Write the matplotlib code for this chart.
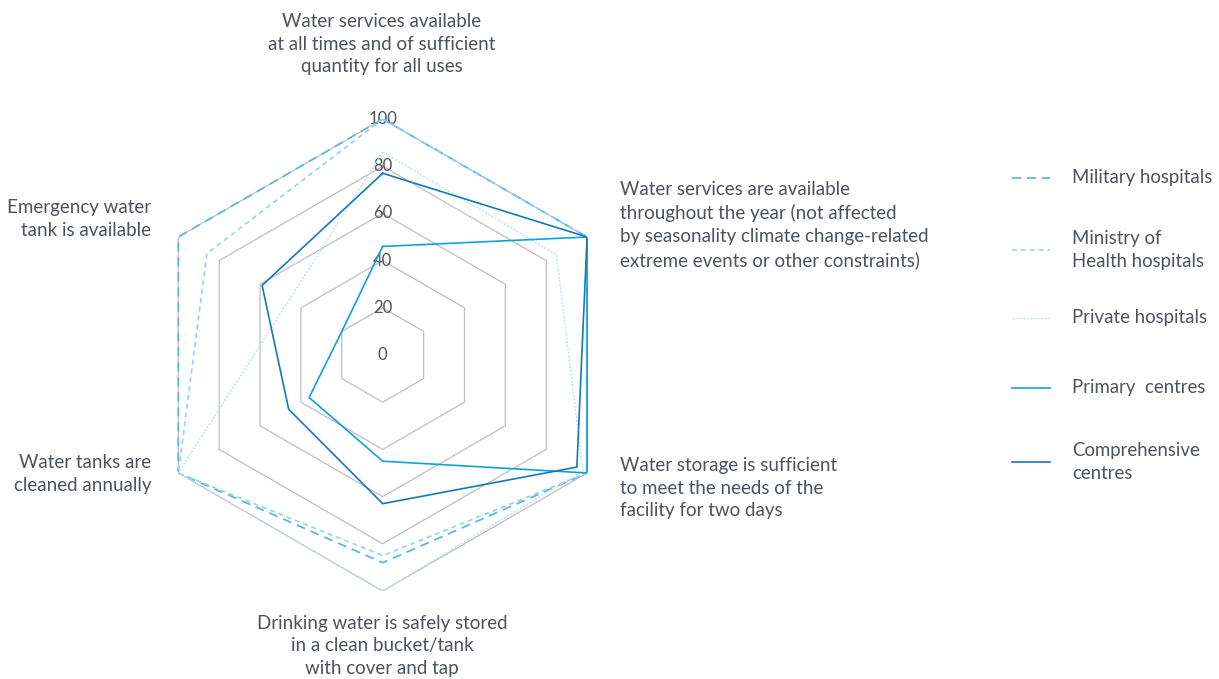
import numpy as np
import matplotlib
matplotlib.use("Agg")
import matplotlib.pyplot as plt
from matplotlib.lines import Line2D

plt.rcParams['font.family'] = ['Lato', 'DejaVu Sans']
plt.rcParams['lines.scale_dashes'] = False

categories = [
    "Water services available\nat all times and of sufficient\nquantity for all uses",
    "Water services are available\nthroughout the year (not affected\nby seasonality climate change-related\nextreme events or other constraints)",
    "Water storage is sufficient\nto meet the needs of the\nfacility for two days",
    "Drinking water is safely stored\nin a clean bucket/tank\nwith cover and tap",
    "Water tanks are\ncleaned annually",
    "Emergency water\ntank is available",
]
series_names = ["Military hospitals", "Ministry of\nHealth hospitals", "Private hospitals",
                "Primary  centres", "Comprehensive\ncentres"]
military = [100, 100, 100, 88, 100, 100]
ministry = [100, 100, 100, 85, 100, 86]
private = [86, 85, 98, 100, 100, 46]
primary = [46, 100, 100, 45, 36, 20]
comprehensive = [77, 100, 95, 63, 46, 59]
ring_values = [20, 40, 60, 80, 100]
tick_labels = ["0", "20", "40", "60", "80", "100"]

series = [military, ministry, private, primary, comprehensive]
styles = [
    dict(color="#5ab8e6", lw=1.3, linestyle=(0, (6.5, 4.3))),
    dict(color="#92d3f2", lw=1.2, linestyle=(0, (3.6, 2.8))),
    dict(color="#b5e0f5", lw=1.0, linestyle=(0, (1.4, 1.2))),
    dict(color="#0ea2dc", lw=1.2, linestyle="-"),
    dict(color="#1577bd", lw=1.2, linestyle="-"),
]

W, H = 1219, 679
fig = plt.figure(figsize=(W / 100, H / 100), dpi=100)
cx, cy, R = 382.7, 355.0, 236.0
ax = fig.add_axes([(cx - R) / W, (H - cy - R) / H, 2 * R / W, 2 * R / H], projection='polar')
ax.set_theta_zero_location('N')
ax.set_theta_direction(-1)
ax.set_ylim(0, 100)
ax.grid(False)
ax.spines['polar'].set_visible(False)
ax.set_xticks([])
ax.set_yticks([])
ax.patch.set_alpha(0)

n = len(categories)
angles = np.linspace(0, 2 * np.pi, n, endpoint=False)
closed = np.concatenate([angles, angles[:1]])

for rv in ring_values:
    ax.plot(closed, [rv] * (n + 1), color="#bfbfbf", lw=0.9, zorder=1)

txt_color = "#4d5261"
for i, lab in enumerate(tick_labels):
    ax.text(0, i * 20, lab, ha='center', va='center', fontsize=12, color=txt_color, zorder=2)

order = [2, 1, 0, 3, 4]
for k in order:
    vals = series[k]
    ax.plot(closed, vals + vals[:1], zorder=3 + k, **styles[k])

def ft(x, y, s, ha, **kw):
    fig.text(x / W, 1 - y / H, s, ha=ha, va='center', fontsize=13.5, color=txt_color,
             linespacing=1.4, multialignment=ha, **kw)

ft(382, 44, categories[0], 'center')
ft(620, 225, categories[1], 'left')
ft(620, 488, categories[2], 'left')
ft(382, 646, categories[3], 'center')
ft(151, 474, categories[4], 'right')
ft(151, 219, categories[5], 'right')

leg_y = [178, 250, 318, 388, 462]
for k in range(5):
    y = 1 - leg_y[k] / H
    fig.add_artist(Line2D([1012 / W, 1050 / W], [y, y], transform=fig.transFigure, **styles[k]))
    fig.text(1072 / W, y, series_names[k], ha='left', va='center', fontsize=13.4,
             color=txt_color, linespacing=1.4)

fig.savefig("out.png", dpi=100)
